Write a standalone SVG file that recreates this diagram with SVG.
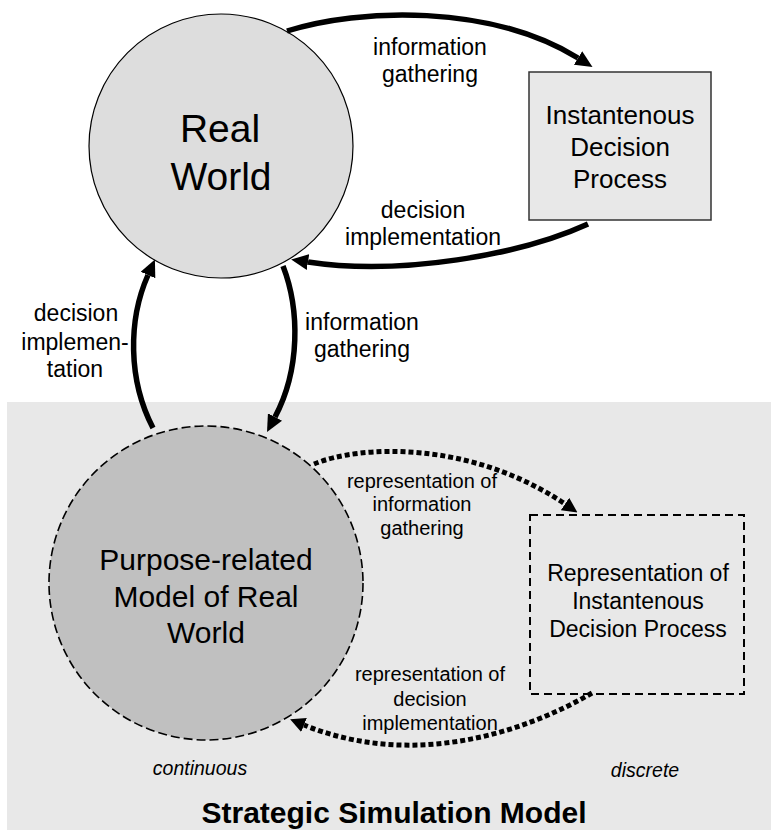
<svg xmlns="http://www.w3.org/2000/svg" width="771" height="830" viewBox="0 0 771 830">
<style>
text{font-family:"Liberation Sans",Arial,sans-serif;fill:#000;text-anchor:middle}
.lbl{font-size:23px}
.rlbl{font-size:20px}
.solid{fill:none;stroke:#000;stroke-width:5.5}
.dot{fill:none;stroke:#000;stroke-width:5;stroke-dasharray:5 3}
.it{font-size:19.5px;font-style:italic}
</style>
<defs>
<marker id="ah" markerUnits="userSpaceOnUse" markerWidth="17" markerHeight="16" viewBox="0 0 17 16" refX="0" refY="8" orient="auto">
<path d="M0,0 L17,8 L0,16 z" fill="#000"/>
</marker>
<marker id="ahd" markerUnits="userSpaceOnUse" markerWidth="15" markerHeight="15" viewBox="0 0 15 15" refX="0" refY="7.5" orient="auto">
<path d="M0,0 L15,7.5 L0,15 z" fill="#000"/>
</marker>
</defs>
<rect id="simulation-area" x="7" y="402" width="764" height="428" fill="#e8e8e8"/>
<g id="real-world">
<circle cx="221" cy="146" r="132" fill="#dddddd" stroke="#000" stroke-width="1.2"/>
<text x="220" y="142" font-size="39">Real</text>
<text x="221" y="190" font-size="39">World</text>
</g>
<g id="decision-process">
<rect x="529" y="72" width="182" height="148" fill="#e8e8e8" stroke="#333" stroke-width="1.5"/>
<text x="620" y="124" font-size="26">Instantenous</text>
<text x="620" y="156" font-size="26">Decision</text>
<text x="620" y="188" font-size="26">Process</text>
</g>
<g id="model">
<circle cx="206" cy="583" r="157" fill="#c0c0c0" stroke="#000" stroke-width="1.6" stroke-dasharray="9 4"/>
<text x="206" y="570" font-size="30">Purpose-related</text>
<text x="206" y="607" font-size="30">Model of Real</text>
<text x="206" y="643" font-size="30">World</text>
</g>
<g id="rep-decision-process">
<rect x="530" y="515" width="214" height="179" fill="none" stroke="#000" stroke-width="2" stroke-dasharray="8 5"/>
<text x="638" y="581" font-size="23">Representation of</text>
<text x="638" y="609" font-size="23">Instantenous</text>
<text x="638" y="637" font-size="23">Decision Process</text>
</g>
<g id="connectors">
<path class="solid" d="M287,31 C360,8 490,4 578,58" marker-end="url(#ah)"/>
<path class="solid" d="M588,224 C520,255 400,276 308,262" marker-end="url(#ah)"/>
<path class="solid" d="M153,428 C128,380 128,320 148,275" marker-end="url(#ah)"/>
<path class="solid" d="M283,266 C300,310 300,370 275,417" marker-end="url(#ah)"/>
<path class="dot" d="M314,464 C360,445 470,440 565,504" marker-end="url(#ahd)"/>
<path class="dot" d="M592,693 C520,735 410,768 304,725" marker-end="url(#ahd)"/>
</g>
<g id="labels">
<text class="lbl" x="430" y="55">information</text>
<text class="lbl" x="430" y="82">gathering</text>
<text class="lbl" x="423" y="218">decision</text>
<text class="lbl" x="423" y="245">implementation</text>
<text class="lbl" x="76" y="321">decision</text>
<text class="lbl" x="75" y="350">implemen-</text>
<text class="lbl" x="75" y="377">tation</text>
<text class="lbl" x="362" y="330">information</text>
<text class="lbl" x="362" y="357">gathering</text>
<text class="rlbl" x="422" y="488">representation of</text>
<text class="rlbl" x="422" y="511">information</text>
<text class="rlbl" x="422" y="535">gathering</text>
<text class="rlbl" x="430" y="681">representation of</text>
<text class="rlbl" x="430" y="706">decision</text>
<text class="rlbl" x="430" y="730">implementation</text>
<text class="it" x="200" y="775">continuous</text>
<text class="it" x="645" y="777">discrete</text>
<text x="394" y="823" font-size="30" font-weight="bold">Strategic Simulation Model</text>
</g>
</svg>
